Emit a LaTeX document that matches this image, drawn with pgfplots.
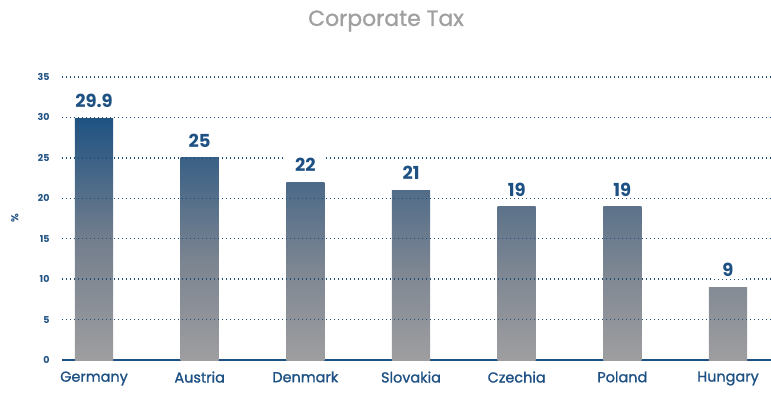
\documentclass[border=0pt]{standalone}
\usepackage{pgfplots}
\pgfplotsset{compat=1.18}
\usepackage{fontspec}
\setmainfont{Poppins}
\newfontfamily\medfont{Poppins}[FakeBold=1.2]
\usetikzlibrary{calc}
\definecolor{navy}{HTML}{1D5083}
\definecolor{bblue}{HTML}{1E5282}
\definecolor{bmid}{HTML}{737E8D}
\definecolor{bgray}{HTML}{9E9EA0}
\definecolor{titlegray}{HTML}{A0A0A0}
\definecolor{gridnavy}{HTML}{1D4F7E}
\begin{document}
\begin{tikzpicture}
\begin{axis}[
  name=ax,
  scale only axis,
  width=709bp, height=283bp,
  xmin=-0.303, xmax=6.407,
  ymin=0, ymax=35,
  xtick={0,1,2,3,4,5,6},
  xticklabels={Germany,Austria,Denmark,Slovakia,Czechia,Poland,Hungary},
  ytick={0,5,10,15,20,25,30,35},
  major tick length=0pt,
  axis x line*=bottom,
  axis y line*=left,
  y axis line style={draw=none},
  x axis line style={navy, line width=1.4bp},
  /pgf/number format/assume math mode=true,
  yticklabel style={font=\bfseries\fontsize{9.5}{10}\selectfont, text=navy, xshift=-9bp},
  xticklabel style={font=\medfont\fontsize{14.5}{16}\selectfont, text=navy, yshift=-8bp},
  every axis y label/.style={at={(axis description cs:-0.0663,0.5)}, rotate=90, anchor=center, font=\bfseries\fontsize{10}{10}\selectfont, text=navy},
  ylabel={\%},
  clip=false,
]
\addplot[ybar, bar width=0.36, bar shift=0pt, draw=none, top color=bblue!99!bmid, bottom color=bgray, middle color=bmid] coordinates {(0,29.9)};
\addplot[ybar, bar width=0.36, bar shift=0pt, draw=none, top color=bblue!67!bmid, bottom color=bgray, middle color=bmid!83!bgray] coordinates {(1,25)};
\addplot[ybar, bar width=0.36, bar shift=0pt, draw=none, top color=bblue!47!bmid, bottom color=bgray, middle color=bmid!73!bgray] coordinates {(2,22)};
\addplot[ybar, bar width=0.36, bar shift=0pt, draw=none, top color=bblue!40!bmid, bottom color=bgray, middle color=bmid!70!bgray] coordinates {(3,21)};
\addplot[ybar, bar width=0.36, bar shift=0pt, draw=none, top color=bblue!27!bmid, bottom color=bgray, middle color=bmid!63!bgray] coordinates {(4,19)};
\addplot[ybar, bar width=0.36, bar shift=0pt, draw=none, top color=bblue!27!bmid, bottom color=bgray, middle color=bmid!63!bgray] coordinates {(5,19)};
\addplot[ybar, bar width=0.36, bar shift=0pt, draw=none, top color=bmid!60!bgray, bottom color=bgray, middle color=bmid!30!bgray] coordinates {(6,9)};
\pgfplotsinvokeforeach{5,10,15,20,25,30,35}{
  \draw[gridnavy, line width=1.3bp, dash pattern=on 1.4bp off 2.6bp] (axis cs:-0.303,#1) -- (axis cs:6.407,#1);
}
\addplot[draw=none, mark=none, nodes near coords, point meta=explicit symbolic,
  nodes near coords style={anchor=south, fill=white, inner xsep=10bp, inner ysep=2bp, yshift=8bp, text=navy, font=\bfseries\fontsize{18}{19}\selectfont}]
  coordinates {(0,29.9)[29.9] (1,25)[25] (2,22)[22] (3,21)[21] (4,19)[19] (5,19)[19] (6,9)[9]};
\end{axis}
\node[font=\medfont\fontsize{22}{24}\selectfont, text=titlegray] at ($(ax.south west)+(324bp,339bp)$) {Corporate Tax};
\pgfresetboundingbox
\path ($(ax.south west)+(-62bp,-33bp)$) rectangle ($(ax.north east)+(0,77bp)$);
\end{tikzpicture}
\end{document}
